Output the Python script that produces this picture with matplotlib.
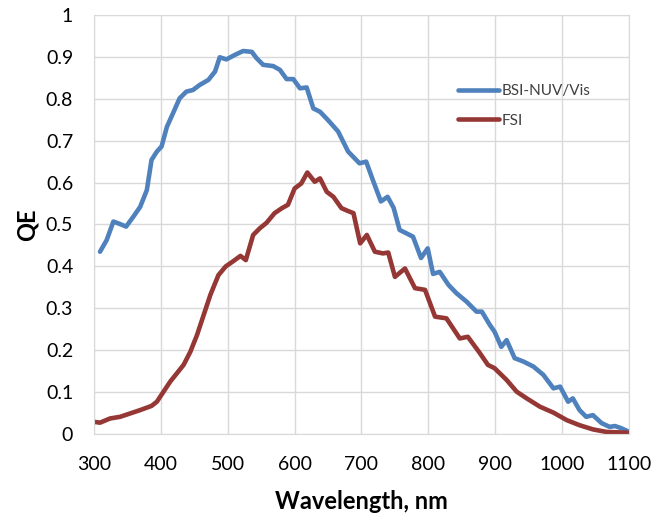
import matplotlib
matplotlib.use('Agg')
import matplotlib.pyplot as plt

plt.rcParams['font.family'] = ['Lato', 'DejaVu Sans']

# BSI-NUV/Vis curve
bsi_x = [309, 319, 329, 339, 348, 359, 369, 379, 386, 394, 401, 409, 418, 428, 438, 448, 458,
         471, 481, 488, 498, 511, 523, 536, 543, 553, 568, 578, 588, 598, 608, 618, 628, 638,
         650, 665, 680, 697, 707, 717, 729, 739, 748, 757, 767, 777, 789, 799, 807, 817, 830,
         842, 857, 872, 880, 892, 899, 909, 917, 929, 942, 957, 972, 987, 997, 1009, 1016,
         1026, 1036, 1046, 1059, 1071, 1079, 1088, 1099]
bsi_y = [0.435, 0.463, 0.507, 0.501, 0.495, 0.519, 0.542, 0.582, 0.654, 0.674, 0.686, 0.733,
         0.765, 0.801, 0.817, 0.821, 0.833, 0.845, 0.865, 0.899, 0.894, 0.905, 0.914, 0.912,
         0.897, 0.881, 0.878, 0.869, 0.847, 0.847, 0.825, 0.827, 0.777, 0.769, 0.749, 0.722,
         0.674, 0.646, 0.650, 0.606, 0.555, 0.566, 0.540, 0.487, 0.479, 0.471, 0.420, 0.443,
         0.382, 0.387, 0.356, 0.336, 0.316, 0.292, 0.292, 0.260, 0.244, 0.208, 0.224, 0.181,
         0.173, 0.161, 0.141, 0.109, 0.113, 0.077, 0.085, 0.057, 0.041, 0.045, 0.026, 0.017,
         0.019, 0.014, 0.006]

# FSI curve
fsi_x = [300, 309, 324, 339, 354, 369, 386, 394, 404, 414, 424, 434, 444, 454, 464, 474, 486,
         497, 507, 519, 527, 538, 548, 558, 570, 581, 590, 600, 610, 619, 630, 638, 648, 658,
         670, 680, 688, 698, 708, 720, 732, 740, 750, 765, 780, 795, 810, 827, 847, 859, 877,
         889, 899, 917, 932, 947, 967, 987, 1007, 1026, 1046, 1066, 1099]
fsi_y = [0.029, 0.027, 0.037, 0.041, 0.049, 0.057, 0.067, 0.077, 0.101, 0.125, 0.145, 0.165,
         0.196, 0.236, 0.284, 0.332, 0.379, 0.400, 0.411, 0.425, 0.415, 0.475, 0.491, 0.504,
         0.527, 0.539, 0.547, 0.586, 0.598, 0.624, 0.602, 0.610, 0.578, 0.566, 0.539, 0.532,
         0.527, 0.455, 0.475, 0.435, 0.431, 0.433, 0.375, 0.395, 0.348, 0.344, 0.280, 0.276,
         0.228, 0.232, 0.193, 0.165, 0.157, 0.129, 0.101, 0.085, 0.065, 0.051, 0.033, 0.021,
         0.011, 0.005, 0.003]

x_ticks = [300, 400, 500, 600, 700, 800, 900, 1000, 1100]
y_ticks = [0, 0.1, 0.2, 0.3, 0.4, 0.5, 0.6, 0.7, 0.8, 0.9, 1]
y_labels = ['0', '0.1', '0.2', '0.3', '0.4', '0.5', '0.6', '0.7', '0.8', '0.9', '1']

fig = plt.figure(figsize=(6.7, 5.2), dpi=100)
ax = fig.add_axes([0.1403, 0.1654, 0.7985, 0.8058])

ax.plot(bsi_x, bsi_y, color='#4F81BD', lw=3.3, label='BSI-NUV/Vis',
        solid_joinstyle='round', solid_capstyle='round')
ax.plot(fsi_x, fsi_y, color='#953735', lw=3.3, label='FSI',
        solid_joinstyle='round', solid_capstyle='round')

ax.set_xlim(300, 1100)
ax.set_ylim(0, 1)
ax.set_xticks(x_ticks)
ax.set_yticks(y_ticks)
ax.set_yticklabels(y_labels)
ax.tick_params(length=0, labelsize=14)
ax.tick_params(axis='x', pad=16)
ax.tick_params(axis='y', pad=15)
ax.grid(True, color='#D9D9D9', lw=1)
ax.set_axisbelow(True)
for s in ax.spines.values():
    s.set_color('#D9D9D9')

ax.set_xlabel('Wavelength, nm', fontsize=17, fontweight='bold', labelpad=12)
ax.set_ylabel('QE', fontsize=17, fontweight='bold', labelpad=5)

leg = ax.legend(loc='center left', bbox_to_anchor=(0.68, 0.783), frameon=False,
                fontsize=11, handlelength=2.7, handletextpad=0.2, labelspacing=1.0,
                borderpad=0, borderaxespad=0)
for t in leg.get_texts():
    t.set_color('#404040')

fig.savefig('out.png', dpi=100)
